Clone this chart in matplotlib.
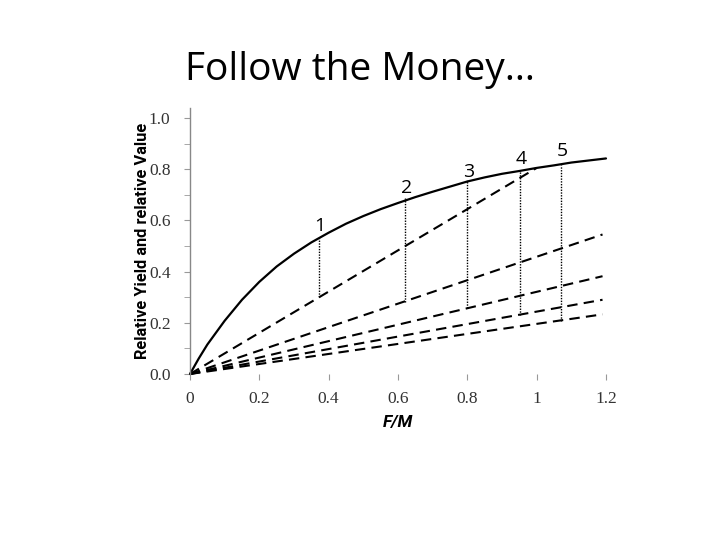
import matplotlib
matplotlib.use("Agg")
import matplotlib.pyplot as plt

# Yield curve
curve_x = [0, 0.025, 0.05, 0.1, 0.15, 0.2, 0.25, 0.3, 0.35, 0.4, 0.45, 0.5, 0.55, 0.6,
           0.65, 0.7, 0.75, 0.8, 0.85, 0.9, 0.95, 1.0, 1.05, 1.1, 1.15, 1.2]
curve_y = [0, 0.060, 0.115, 0.208, 0.290, 0.360, 0.420, 0.470, 0.514, 0.552, 0.587, 0.617,
           0.644, 0.668, 0.691, 0.712, 0.732, 0.752, 0.768, 0.782, 0.793, 0.805, 0.815,
           0.826, 0.834, 0.842]

# Dashed value lines: end points (start at origin)
line_end_x = [1.0, 1.19, 1.19, 1.19, 1.19]
line_end_y = [0.805, 0.545, 0.382, 0.29, 0.233]

# Dotted connectors: x position, bottom (value line), top (yield curve)
drop_x = [0.371, 0.621, 0.799, 0.951, 1.070]
drop_bottom = [0.300, 0.282, 0.257, 0.230, 0.208]
drop_top = [0.530, 0.686, 0.758, 0.792, 0.815]
drop_labels = ["1", "2", "3", "4", "5"]
label_y = [0.580, 0.725, 0.791, 0.838, 0.870]

x_ticks = [0, 0.2, 0.4, 0.6, 0.8, 1.0, 1.2]
x_tick_labels = ["0", "0.2", "0.4", "0.6", "0.8", "1", "1.2"]
y_ticks = [0.0, 0.2, 0.4, 0.6, 0.8, 1.0]
y_tick_labels = ["0.0", "0.2", "0.4", "0.6", "0.8", "1.0"]
y_minor = [0.1, 0.3, 0.5, 0.7, 0.9]

fig = plt.figure(figsize=(7.2, 5.4), dpi=100)
fig.patch.set_facecolor("white")
ax = fig.add_axes([190/720, 1-374/540, 416/720, 1.04*256/540])
ax.set_xlim(0, 1.2)
ax.set_ylim(0, 1.04)

ax.plot(curve_x, curve_y, color="black", lw=1.6, solid_capstyle="round", clip_on=False)
for ex, ey in zip(line_end_x, line_end_y):
    ax.plot([0, ex], [0, ey], color="black", lw=1.5, dashes=(5, 3), clip_on=False)
for x, b, t in zip(drop_x, drop_bottom, drop_top):
    ax.plot([x, x], [b, t], color="black", lw=1.0, dashes=(1, 1), clip_on=False)
for x, ly, lab in zip(drop_x, label_y, drop_labels):
    ax.text(x + 0.004, ly, lab, ha="center", va="center", fontsize=14,
            family="Open Sans", color="black")

for s in ["top", "right", "bottom"]:
    ax.spines[s].set_visible(False)
ax.spines["left"].set_color("#888888")
ax.spines["left"].set_linewidth(1.0)

ax.set_xticks(x_ticks)
ax.set_xticklabels(x_tick_labels)
ax.set_yticks(y_ticks)
ax.set_yticklabels(y_tick_labels)
ax.set_yticks(y_minor, minor=True)
ax.tick_params(axis="x", direction="out", length=4, color="#999999", pad=8,
               labelsize=12.5, labelcolor="#333333")
ax.tick_params(axis="y", which="both", direction="out", length=4, color="#999999",
               pad=10, labelsize=12.5, labelcolor="#333333")
for lab in ax.get_xticklabels() + ax.get_yticklabels():
    lab.set_family("Liberation Serif")

ax.set_xlabel("F/M", fontsize=12.5, fontweight="bold", style="italic",
              family="Roboto", labelpad=6)
ax.set_ylabel("Relative Yield and relative Value", fontsize=11.8, fontweight="bold",
              family="Roboto", labelpad=-1)

fig.text(360/720, 1-70/540, "Follow the Money…", ha="center", va="center",
         fontsize=28, family="Open Sans", color="black")

fig.savefig("out.png", dpi=100, facecolor="white")
